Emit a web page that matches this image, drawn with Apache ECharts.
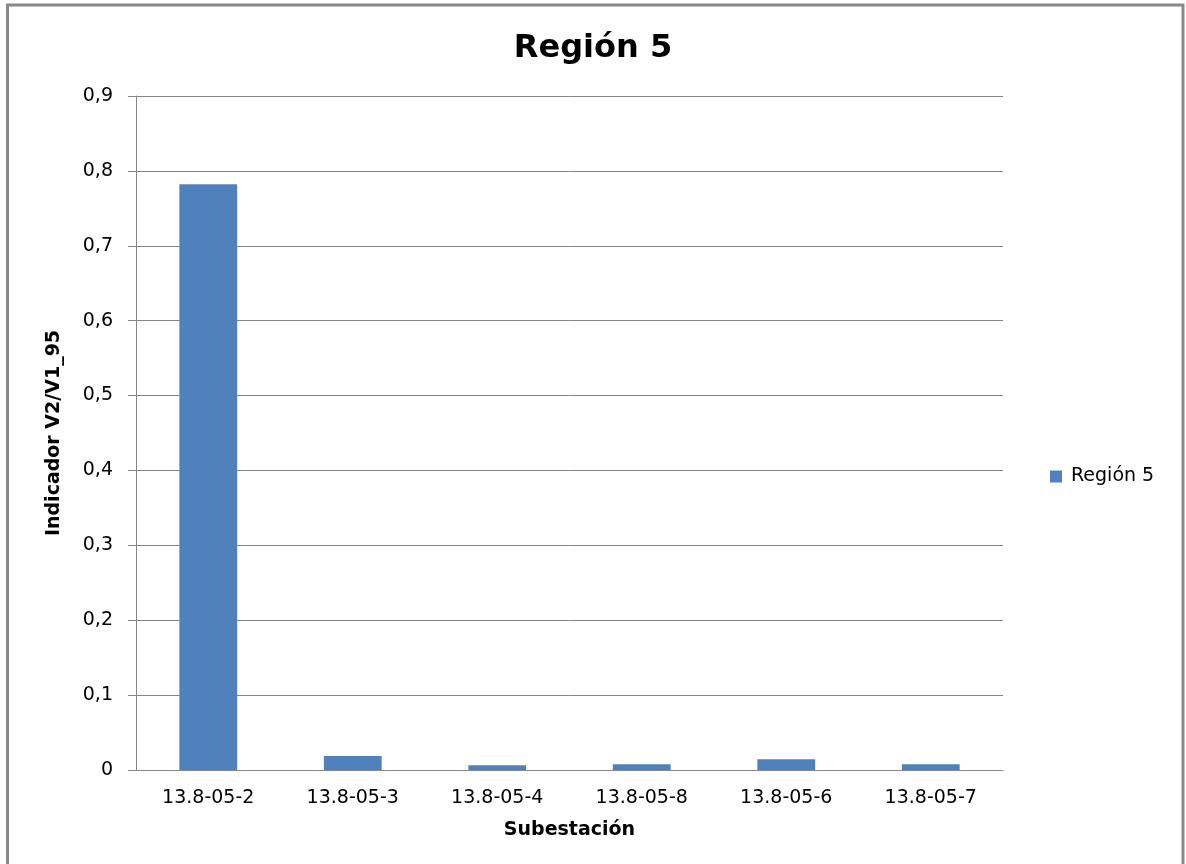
<!DOCTYPE html>
<html>
<head>
<meta charset="utf-8">
<title>Región 5</title>
<script src="https://cdn.jsdelivr.net/npm/echarts@6/dist/echarts.min.js"></script>
<style>
  html, body { margin: 0; padding: 0; background: #ffffff; }
  #chart { width: 1186px; height: 864px; }
</style>
</head>
<body>
<div id="chart"></div>
<script>
// Substations along the category axis
const substations = ['13.8-05-2', '13.8-05-3', '13.8-05-4', '13.8-05-8', '13.8-05-6', '13.8-05-7'];
// Indicator V2/V1_95 per substation
const indicatorValues = [0.782, 0.0187, 0.0063, 0.0076, 0.0143, 0.0076];
const seriesName = 'Región 5';
const chartTitle = 'Región 5';
const xAxisTitle = 'Subestación';
const yAxisTitle = 'Indicador V2/V1_95';
const yMin = 0, yMax = 0.9, yStep = 0.1;

const chart = echarts.init(document.getElementById('chart'), null, { renderer: 'canvas' });

const gray = '#868686';
const font = 'DejaVu Sans';

chart.setOption({
  backgroundColor: '#ffffff',
  animation: false,
  title: {
    text: chartTitle,
    left: 'center',
    top: 28,
    textStyle: { fontFamily: font, fontSize: 32, fontWeight: 'bold', color: '#000000' }
  },
  legend: {
    data: [seriesName],
    orient: 'vertical',
    left: 1045,
    top: 462,
    icon: 'rect',
    itemWidth: 12,
    itemHeight: 12,
    textStyle: { fontFamily: font, fontSize: 19, color: '#000000', padding: [0, 0, 0, 4] }
  },
  grid: { left: 136, right: 183, top: 96, bottom: 94, containLabel: false },
  xAxis: {
    type: 'category',
    data: substations,
    name: xAxisTitle,
    nameLocation: 'middle',
    nameGap: 51,
    nameTextStyle: { fontFamily: font, fontSize: 19, fontWeight: 'bold', color: '#000000' },
    axisLine: { show: true, lineStyle: { color: gray, width: 1 } },
    axisTick: { show: false },
    axisLabel: { fontFamily: font, fontSize: 19, color: '#000000', margin: 19 },
    splitLine: { show: false }
  },
  yAxis: {
    type: 'value',
    min: yMin,
    max: yMax,
    interval: yStep,
    name: yAxisTitle,
    nameLocation: 'middle',
    nameGap: 72,
    nameTextStyle: { fontFamily: font, fontSize: 19, fontWeight: 'bold', color: '#000000' },
    axisLine: { show: true, lineStyle: { color: gray, width: 1 } },
    axisTick: { show: true, inside: false, length: 8, lineStyle: { color: gray } },
    axisLabel: {
      fontFamily: font, fontSize: 19, color: '#000000', margin: 23,
      formatter: v => (v === 0 ? '0' : v.toFixed(1).replace('.', ','))
    },
    splitLine: { show: true, lineStyle: { color: gray, width: 1 } }
  },
  series: [{
    name: seriesName,
    type: 'bar',
    data: indicatorValues,
    barCategoryGap: '60%',
    itemStyle: { color: '#4F81BD' }
  }],
  graphic: [{
    type: 'rect',
    shape: { x: 7.5, y: 5, width: 1175.5, height: 900 },
    style: { fill: 'none', stroke: '#898989', lineWidth: 3 },
    silent: true
  }]
});
</script>
</body>
</html>
